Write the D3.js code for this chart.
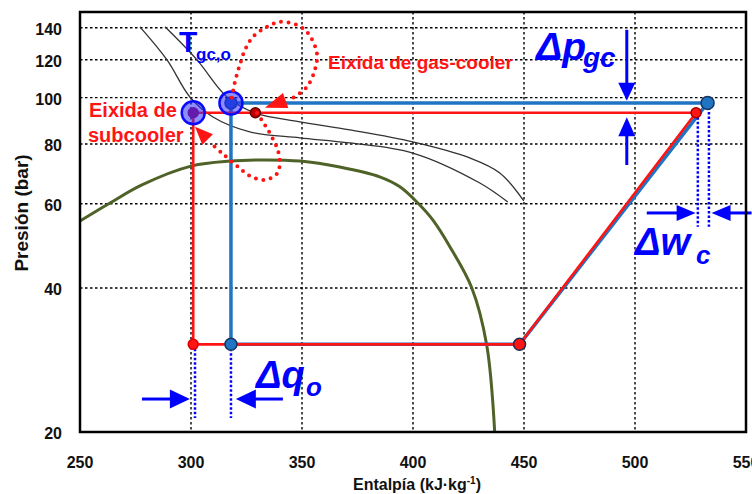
<!DOCTYPE html>
<html>
<head>
<meta charset="utf-8">
<script src="https://cdn.jsdelivr.net/npm/d3@7"></script>
<style>
  body { margin: 0; background: #fff; }
  svg { display: block; font-family: 'Liberation Sans', Arial, sans-serif; }
</style>
</head>
<body>
<svg id="chart"></svg>
<script>
// ---- data ---------------------------------------------------------------
const xTicks = [250, 300, 350, 400, 450, 500, 550]
const yTicks = [20, 40, 60, 80, 100, 120, 140]

// saturation dome (h kJ/kg, p bar)
const domeH = [250, 263.5, 277.9, 300.4, 317.5, 333.3, 349, 367, 385, 394.1, 402.2, 408.9, 416.6, 426.5, 433.2, 436.8]
const domeP = [55.2, 60.2, 65.7, 72.0, 73.7, 74.1, 73.7, 71.6, 68.3, 65.1, 60.2, 55.5, 48.8, 40.0, 30.4, 20]

// two isotherms (gas-cooler outlet temperatures)
const isoAH = [277.0, 289.2, 299.5, 309.9, 326.5, 349.0, 371.5, 399.9, 430.1, 442.7]
const isoAP = [140.6, 119.9, 100.3, 91.1, 84.8, 82.4, 80.4, 76.6, 66.3, 60.5]
const isoBH = [288.3, 302.7, 316.2, 328.8, 349.0, 371.5, 399.9, 425.6, 439.1, 449.9]
const isoBP = [140.6, 119.9, 100.3, 92.9, 89.0, 85.6, 80.8, 74.8, 69.6, 60.8]

// cycles: base (blue) and with subcooler (red)
const blueH = [448, 532.7, 318, 318, 448]
const blueP = [30.5, 97.5, 97.5, 30.5, 30.5]
const redH = [448, 527.5, 301, 301, 448]
const redP = [30.5, 93, 93, 30.5, 30.5]
const gcOutRedH = 329
const gcOutRedP = 93

// callout paths
const gcCallH = [318.4, 319.8, 322.0, 324.3, 327.9, 334.2, 340.0, 347.7, 352.6, 356.7, 355.8, 352.2, 345.9]
const gcCallP = [99.9, 107.9, 117.1, 125.8, 134.0, 140.6, 144.0, 141.9, 136.6, 124.0, 114.3, 105.3, 99.9]
const gcTip = [333.3, 95.2]
const scCallH = [329.7, 333.3, 336.4, 339.1, 340.0, 338.7, 333.3, 326.5, 320.7, 313.9, 309.9]
const scCallP = [92.9, 87.7, 82.8, 77.7, 73.0, 69.3, 67.3, 68.6, 72.0, 76.6, 79.6]
const scTip = [301.8, 86.9]

// delta markers
const dpH = 496.3
const dpDown = [138.6, 98.5]
const dpUp = [72.3, 91]
const dwP = 57.4
const dwRight = [505.3, 527.3]
const dwLeft = [552.5, 534.5]
const dwLow = 53.7
const dqP = 23.44
const dqRight = [277.9, 299.5]
const dqLeft = [341.4, 320.2]
const dqLow = 21.4

// ---- layout -------------------------------------------------------------
const margin = { top: 12, left: 80, right: 6, bottom: 62 }
const W = 752, H = 494
const width = W - margin.left - margin.right
const height = H - margin.top - margin.bottom

const root = d3.select('#chart').attr('width', W).attr('height', H)
const svg = root.append('g').attr('transform', 'translate(' + margin.left + ',' + margin.top + ')')

const x = d3.scaleLinear().domain([250, 550]).range([0, width])
const y = d3.scaleLog().domain([20, 151]).range([height, 0])

const pts = (hs, ps) => hs.map((h, i) => [h, ps[i]])
const line = d3.line().x(d => x(d[0])).y(d => y(d[1]))
const smooth = d3.line().x(d => x(d[0])).y(d => y(d[1])).curve(d3.curveCatmullRom)

// grid
svg.append('g')
  .selectAll('line')
  .data(xTicks.slice(1, -1))
  .join('line')
  .attr('x1', d => x(d)).attr('x2', d => x(d))
  .attr('y1', 0).attr('y2', height)
  .attr('stroke', '#000').attr('stroke-width', 1.4).attr('stroke-dasharray', '2.5,2.5')

svg.append('g')
  .selectAll('line')
  .data(yTicks.slice(1))
  .join('line')
  .attr('y1', d => y(d)).attr('y2', d => y(d))
  .attr('x1', 0).attr('x2', width)
  .attr('stroke', '#000').attr('stroke-width', 1.4).attr('stroke-dasharray', '2.5,2.5')

// axes labels
svg.append('g')
  .selectAll('text')
  .data(xTicks)
  .join('text')
  .attr('x', d => x(d)).attr('y', height + 36)
  .attr('text-anchor', 'middle')
  .attr('font-size', 16).attr('font-weight', 'bold').attr('fill', '#111')
  .text(d => d)

svg.append('g')
  .selectAll('text')
  .data(yTicks)
  .join('text')
  .attr('x', -18).attr('y', d => y(d))
  .attr('dy', '0.45em')
  .attr('text-anchor', 'end')
  .attr('font-size', 16).attr('font-weight', 'bold').attr('fill', '#111')
  .text(d => d)

const xt = svg.append('text')
  .attr('x', 337).attr('y', height + 58)
  .attr('text-anchor', 'middle')
  .attr('font-size', 16).attr('font-weight', 'bold').attr('fill', '#111')
xt.append('tspan').text('Entalpía (kJ·kg')
xt.append('tspan').attr('font-size', 10).attr('dy', -6).text('-1')
xt.append('tspan').attr('dy', 6).text(')')

svg.append('text')
  .attr('transform', 'translate(-52,' + 201 + ') rotate(-90)')
  .attr('text-anchor', 'middle')
  .attr('font-size', 19).attr('font-weight', 'bold').attr('fill', '#111')
  .text('Presión (bar)')

// dome and isotherms
svg.append('path').datum(pts(domeH, domeP))
  .attr('d', smooth).attr('fill', 'none')
  .attr('stroke', '#4f6228').attr('stroke-width', 3)

svg.append('path').datum(pts(isoAH, isoAP))
  .attr('d', smooth).attr('fill', 'none')
  .attr('stroke', '#333').attr('stroke-width', 1.3)
svg.append('path').datum(pts(isoBH, isoBP))
  .attr('d', smooth).attr('fill', 'none')
  .attr('stroke', '#333').attr('stroke-width', 1.3)

// cycles
svg.append('path').datum(pts(blueH, blueP))
  .attr('d', line).attr('fill', 'none')
  .attr('stroke', '#1f74c4').attr('stroke-width', 3.5)
svg.append('path').datum(pts(redH, redP))
  .attr('d', line).attr('fill', 'none')
  .attr('stroke', '#ff1414').attr('stroke-width', 2.6)

// dotted blue guides
const guide = (h, p1, p2) => svg.append('line')
  .attr('x1', x(h)).attr('x2', x(h)).attr('y1', y(p1)).attr('y2', y(p2))
  .attr('stroke', '#0000ff').attr('stroke-width', 2.5).attr('stroke-dasharray', '2.5,2')
guide(redH[1] + 0.8, redP[1], dwLow)
guide(blueH[1] + 0.6, blueP[1], dwLow)
guide(redH[2] + 0.8, redP[3], dqLow)
guide(blueH[2], blueP[3], dqLow)

// state points
const dot = (h, p, r, fill, stroke) => svg.append('circle')
  .attr('cx', x(h)).attr('cy', y(p)).attr('r', r)
  .attr('fill', fill).attr('stroke', stroke).attr('stroke-width', 1.5)
dot(redH[3], redP[3], 5, '#ff1414', '#e00000')
dot(blueH[3], blueP[3], 6, '#1f74c4', '#17365d')
dot(redH[0], redP[0], 6, '#ff1414', '#1f2d4d')
dot(blueH[1], blueP[1], 6.5, '#1f74c4', '#17365d')
dot(redH[1], redP[1], 5, '#ff1414', '#a00000')
dot(gcOutRedH, gcOutRedP, 5, '#c00000', '#600000')
dot(redH[2], redP[2], 5, '#a0004a', '#a0004a')
dot(blueH[2], blueP[2], 6, '#1050c0', '#103080')

// highlighted outlet circles
svg.selectAll('.ring')
  .data([[redH[2], redP[2]], [blueH[2], blueP[2]]])
  .join('circle')
  .attr('class', 'ring')
  .attr('cx', d => x(d[0])).attr('cy', d => y(d[1])).attr('r', 11.5)
  .attr('fill', 'rgba(50,50,255,0.55)')
  .attr('stroke', '#0a0aff').attr('stroke-width', 2.5)

// arrows
function arrow(x1, y1, x2, y2, color, len, wid, sw, dotted) {
  const a = Math.atan2(y2 - y1, x2 - x1)
  const bx = x2 - len * Math.cos(a)
  const by = y2 - len * Math.sin(a)
  const px = -Math.sin(a) * wid / 2
  const py = Math.cos(a) * wid / 2
  if (!dotted) {
    svg.append('line')
      .attr('x1', x1).attr('y1', y1).attr('x2', bx + Math.cos(a)).attr('y2', by + Math.sin(a))
      .attr('stroke', color).attr('stroke-width', sw)
  }
  svg.append('path')
    .attr('d', 'M' + x2 + ',' + y2 + 'L' + (bx + px) + ',' + (by + py) + 'L' + (bx - px) + ',' + (by - py) + 'Z')
    .attr('fill', color)
}

// red dotted callouts
const callout = (hs, ps, tip, len, wid) => {
  const p = pts(hs, ps)
  svg.append('path').datum(p)
    .attr('d', smooth).attr('fill', 'none')
    .attr('stroke', '#ff1414').attr('stroke-width', 4)
    .attr('stroke-linecap', 'round').attr('stroke-dasharray', '0,7.5')
  const last = p[p.length - 1]
  arrow(x(last[0]), y(last[1]), x(tip[0]), y(tip[1]), '#ff1414', len, wid, 0, true)
}
callout(gcCallH, gcCallP, gcTip, 22, 16)
callout(scCallH, scCallP, scTip, 18, 15)

// delta arrows
const blue = '#0000ff'
arrow(x(dpH), y(dpDown[0]), x(dpH), y(dpDown[1]), blue, 18, 17, 3)
arrow(x(dpH), y(dpUp[0]), x(dpH), y(dpUp[1]), blue, 19, 17, 3)
arrow(x(dwRight[0]), y(dwP), x(dwRight[1]), y(dwP), blue, 19, 16, 3)
arrow(x(dwLeft[0]), y(dwP), x(dwLeft[1]), y(dwP), blue, 19, 16, 3)
arrow(x(dqRight[0]), y(dqP), x(dqRight[1]), y(dqP), blue, 20, 19, 3)
arrow(x(dqLeft[0]), y(dqP), x(dqLeft[1]), y(dqP), blue, 20, 19, 3)

// frame
svg.append('rect')
  .attr('width', width).attr('height', height)
  .attr('fill', 'none').attr('stroke', '#000').attr('stroke-width', 2.5)

// annotation text (page coords)
const ann = root.append('g')
const label = (tx, ty, txt, size, color, style) => ann.append('text')
  .attr('x', tx).attr('y', ty)
  .attr('font-size', size).attr('font-weight', 'bold')
  .attr('font-style', style || 'normal')
  .attr('fill', color).text(txt)

label(179, 52, 'T', 30, blue)
label(196, 60, 'gc,o', 17, blue)
label(328, 69, 'Eixida de gas-cooler', 19, '#ff1414')
label(89, 117, 'Eixida de', 20, '#ff1414')
label(88, 142, 'subcooler', 20, '#ff1414')
label(536, 60, 'Δp', 39, blue, 'italic')
label(583, 67, 'gc', 28, blue, 'italic')
label(635, 255, 'Δw', 38, blue, 'italic')
label(696, 264, 'c', 26, blue, 'italic')
label(256, 388, 'Δq', 38, blue, 'italic')
label(306, 396, 'o', 26, blue, 'italic')
</script>
</body>
</html>
